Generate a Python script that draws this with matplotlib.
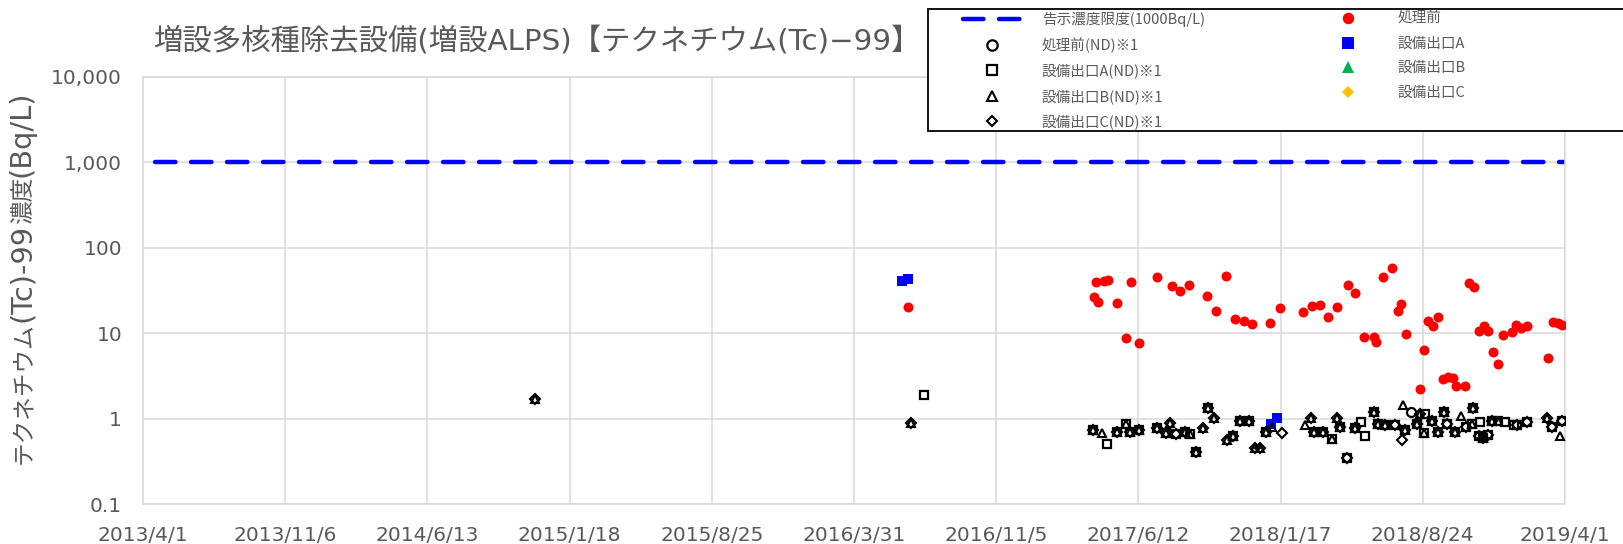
import matplotlib
matplotlib.use("Agg")
import matplotlib.pyplot as plt
import matplotlib.dates as mdates
from matplotlib.patches import Rectangle
import numpy as np
import pandas as pd

# ---------------- data ----------------
title = "増設多核種除去設備(増設ALPS)【テクネチウム(Tc)−99】"
# y-axis title, split into its East-Asian and Latin runs (drawn as one label)
ylabel_parts = ["テクネチウム", "(Tc)-99", "濃度", "(Bq/L)"]
x_tick_labels = ["2013/4/1", "2013/11/6", "2014/6/13", "2015/1/18", "2015/8/25",
                 "2016/3/31", "2016/11/5", "2017/6/12", "2018/1/17", "2018/8/24", "2019/4/1"]
x_range = ["2013-04-01", "2019-04-01"]
y_ticks = [0.1, 1, 10, 100, 1000, 10000]
y_tick_labels = ["0.1", "1", "10", "100", "1,000", "10,000"]

limit_label = "告示濃度限度(1000Bq/L)"
limit_dates = ["2013-04-20", "2019-04-01"]
limit_values = [1000, 1000]

pre_label = "処理前"
pre_dates = ["2016-06-23", "2017-04-05", "2017-04-08", "2017-04-12", "2017-04-20", "2017-04-27",
             "2017-05-10", "2017-05-24", "2017-06-01", "2017-06-13", "2017-07-11", "2017-08-03",
             "2017-08-16", "2017-08-30", "2017-09-27", "2017-10-11", "2017-10-25", "2017-11-08",
             "2017-11-22", "2017-12-05", "2018-01-02", "2018-01-17", "2018-02-21", "2018-03-07",
             "2018-03-19", "2018-04-01", "2018-04-15", "2018-05-02", "2018-05-13", "2018-05-27",
             "2018-06-10", "2018-06-14", "2018-06-25", "2018-07-09", "2018-07-17", "2018-07-22",
             "2018-07-30", "2018-08-21", "2018-08-27", "2018-09-02", "2018-09-10", "2018-09-18",
             "2018-09-25", "2018-10-02", "2018-10-10", "2018-10-15", "2018-10-29", "2018-11-04",
             "2018-11-12", "2018-11-19", "2018-11-27", "2018-12-04", "2018-12-11", "2018-12-18",
             "2018-12-26", "2019-01-09", "2019-01-15", "2019-01-23", "2019-02-01", "2019-03-06",
             "2019-03-13", "2019-03-21", "2019-03-28"]
pre_values = [20.4, 26.3, 39.4, 23.2, 40.8, 42.2,
              22.8, 8.7, 39.8, 7.6, 45.9, 35.7,
              31.5, 36.4, 27.0, 18.3, 46.4, 14.5,
              13.9, 12.8, 13.3, 19.6, 17.7, 20.8,
              21.6, 15.4, 20.1, 37.0, 29.6, 8.95,
              8.95, 7.8, 45.9, 58.0, 18.2, 22.0,
              9.7, 2.2, 6.4, 13.8, 12.1, 15.5,
              2.9, 3.1, 3.0, 2.4, 2.4, 38.4,
              35.0, 10.5, 12.1, 10.7, 6.0, 4.4,
              9.5, 10.3, 12.5, 11.6, 12.1, 5.1,
              13.5, 13.1, 12.5]

pre_nd_label = "処理前(ND)※1"
pre_nd_dates = ["2018-08-06"]
pre_nd_values = [1.2]

a_label = "設備出口A"
a_dates = ["2016-06-13", "2016-06-23", "2018-01-03", "2018-01-13"]
a_values = [40.5, 43.5, 0.86, 1.03]

a_nd_label = "設備出口A(ND)※1"
a_nd_dates = ["2016-07-17", "2017-04-04", "2017-04-26", "2017-05-10", "2017-05-24", "2017-05-31",
              "2017-06-14", "2017-07-11", "2017-07-25", "2017-08-10", "2017-08-23", "2017-08-31",
              "2017-09-09", "2017-09-28", "2017-11-06", "2017-11-16", "2017-11-30", "2017-12-27",
              "2018-03-11", "2018-03-24", "2018-04-07", "2018-04-19", "2018-04-30", "2018-05-13",
              "2018-05-22", "2018-05-28", "2018-06-10", "2018-06-17", "2018-06-28", "2018-07-13",
              "2018-07-29", "2018-08-16", "2018-08-26", "2018-08-29", "2018-09-08", "2018-09-18",
              "2018-09-26", "2018-10-01", "2018-10-14", "2018-10-30", "2018-11-09", "2018-11-11",
              "2018-11-19", "2018-11-21", "2018-11-26", "2018-12-04", "2018-12-09", "2018-12-19",
              "2018-12-30", "2019-01-12", "2019-01-17", "2019-02-01", "2019-03-12", "2019-03-27"]
a_nd_values = [1.9, 0.74, 0.51, 0.70, 0.87, 0.70,
               0.74, 0.78, 0.68, 0.66, 0.70, 0.66,
               0.41, 1.32, 0.62, 0.95, 0.93, 0.70,
               0.70, 0.70, 0.57, 0.80, 0.35, 0.77,
               0.92, 0.62, 1.20, 0.86, 0.85, 0.85,
               0.74, 0.86, 0.68, 1.13, 0.95, 0.70,
               1.20, 0.86, 0.70, 0.80, 0.86, 1.32,
               0.62, 0.92, 0.60, 0.65, 0.95, 0.95,
               0.92, 0.85, 0.85, 0.92, 0.80, 0.95]

b_label = "設備出口B"
b_dates = []
b_values = []

b_nd_label = "設備出口B(ND)※1"
b_nd_dates = ["2014-11-26", "2016-06-28", "2017-04-04", "2017-04-17", "2017-05-10", "2017-05-24",
              "2017-05-31", "2017-06-14", "2017-07-11", "2017-07-25", "2017-08-01", "2017-08-23",
              "2017-08-31", "2017-09-09", "2017-09-20", "2017-09-28", "2017-10-07", "2017-10-27",
              "2017-11-06", "2017-11-16", "2017-11-30", "2017-12-09", "2017-12-17", "2017-12-27",
              "2018-01-04", "2018-02-24", "2018-03-06", "2018-03-11", "2018-03-24", "2018-04-07",
              "2018-04-14", "2018-04-19", "2018-05-13", "2018-06-10", "2018-06-17", "2018-06-28",
              "2018-07-26", "2018-07-29", "2018-08-16", "2018-08-21", "2018-08-26", "2018-09-08",
              "2018-09-18", "2018-09-26", "2018-10-14", "2018-10-22", "2018-11-09", "2018-11-11",
              "2018-11-26", "2018-12-09", "2018-12-19", "2019-03-04", "2019-03-24"]
b_nd_values = [1.7, 0.88, 0.74, 0.68, 0.70, 0.87,
               0.70, 0.74, 0.78, 0.68, 0.89, 0.70,
               0.66, 0.41, 0.77, 1.32, 1.02, 0.56,
               0.62, 0.95, 0.93, 0.45, 0.45, 0.70,
               0.80, 0.85, 1.02, 0.70, 0.70, 0.57,
               1.02, 0.80, 0.77, 1.20, 0.86, 0.85,
               1.44, 0.74, 0.86, 1.13, 0.68, 0.95,
               0.70, 1.20, 0.70, 1.06, 0.86, 1.32,
               0.60, 0.95, 0.95, 1.02, 0.62]

c_label = "設備出口C"
c_dates = []
c_values = []

c_nd_label = "設備出口C(ND)※1"
c_nd_dates = ["2014-11-26", "2016-06-28", "2017-04-04", "2017-05-10", "2017-05-31", "2017-06-14",
              "2017-07-11", "2017-07-25", "2017-08-01", "2017-08-10", "2017-08-23", "2017-09-09",
              "2017-09-20", "2017-09-28", "2017-10-07", "2017-10-27", "2017-11-06", "2017-11-16",
              "2017-11-30", "2017-12-09", "2017-12-17", "2017-12-27", "2018-01-20", "2018-03-06",
              "2018-03-11", "2018-03-24", "2018-04-14", "2018-04-19", "2018-04-30", "2018-05-13",
              "2018-06-10", "2018-06-17", "2018-06-28", "2018-07-13", "2018-07-24", "2018-07-29",
              "2018-08-16", "2018-08-21", "2018-09-08", "2018-09-18", "2018-09-26", "2018-10-01",
              "2018-10-14", "2018-10-30", "2018-11-11", "2018-11-19", "2018-11-26", "2018-12-04",
              "2018-12-09", "2019-01-17", "2019-02-01", "2019-03-04", "2019-03-12", "2019-03-27"]
c_nd_values = [1.7, 0.88, 0.74, 0.70, 0.70, 0.74,
               0.78, 0.68, 0.89, 0.66, 0.70, 0.41,
               0.77, 1.32, 1.02, 0.56, 0.62, 0.95,
               0.93, 0.45, 0.45, 0.70, 0.68, 1.02,
               0.70, 0.70, 1.02, 0.80, 0.35, 0.77,
               1.20, 0.86, 0.85, 0.85, 0.56, 0.74,
               0.86, 1.13, 0.95, 0.70, 1.20, 0.86,
               0.70, 0.80, 1.32, 0.62, 0.60, 0.65,
               0.95, 0.85, 0.92, 1.02, 0.80, 0.95]

# ---------------- style ----------------
W, H = 1623, 544
GRAY = "#595959"
GRID = "#d9d9d9"
CJK = ["Noto Sans CJK JP", "DejaVu Sans"]
MIX = ["DejaVu Sans", "Noto Sans CJK JP"]
plt.rcParams["font.family"] = CJK


def d(lst):
    return mdates.date2num(pd.to_datetime(lst)) if len(lst) else np.array([])


fig = plt.figure(figsize=(W / 100, H / 100), dpi=100)
ax = fig.add_axes([143 / W, (H - 504) / H, (1565 - 143) / W, (504 - 77) / H])

ax.set_yscale("log")
ax.set_ylim(y_ticks[0], y_ticks[-1])
x0, x1 = d(x_range)
ax.set_xlim(x0, x1)

# series in Excel drawing order
lim, = ax.plot(d(limit_dates), limit_values, color="#0000FF", lw=3.2,
               dashes=(4.6, 3.5), dash_capstyle="round", label=limit_label, zorder=2)
pre, = ax.plot(d(pre_dates), pre_values, ls="none", marker="o", ms=7.2, color="#FF0000",
               mew=0, label=pre_label, zorder=3)
pre_nd, = ax.plot(d(pre_nd_dates), pre_nd_values, ls="none", marker="o", ms=6.5, mfc="none",
                  mec="black", mew=1.6, label=pre_nd_label, zorder=3)
a, = ax.plot(d(a_dates), a_values, ls="none", marker="s", ms=7.0, color="#0000FF", mew=0,
             label=a_label, zorder=3)
a_nd, = ax.plot(d(a_nd_dates), a_nd_values, ls="none", marker="s", ms=6.4, mfc="none",
                mec="black", mew=1.6, label=a_nd_label, zorder=3)
b, = ax.plot(d(b_dates), b_values, ls="none", marker="^", ms=7, color="#00B050", mew=0,
             label=b_label, zorder=3)
b_nd, = ax.plot(d(b_nd_dates), b_nd_values, ls="none", marker="^", ms=6.4, mfc="none",
                mec="black", mew=1.5, label=b_nd_label, zorder=3)
c, = ax.plot(d(c_dates), c_values, ls="none", marker="D", ms=5.5, color="#FFC000", mew=0,
             label=c_label, zorder=3)
c_nd, = ax.plot(d(c_nd_dates), c_nd_values, ls="none", marker="D", ms=4.6, mfc="none",
                mec="black", mew=1.5, label=c_nd_label, zorder=3)

# axes / grid
ax.set_xticks(np.linspace(x0, x1, len(x_tick_labels)))
ax.set_xticklabels(x_tick_labels)
ax.set_yticks(y_ticks)
ax.set_yticklabels(y_tick_labels)
ax.yaxis.set_minor_locator(matplotlib.ticker.NullLocator())
ax.tick_params(axis="both", length=0, labelsize=14.5, labelcolor=GRAY)
ax.tick_params(axis="x", pad=16)
ax.tick_params(axis="y", pad=15)
for lab in ax.get_xticklabels() + ax.get_yticklabels():
    lab.set_family("DejaVu Sans")
ax.grid(True, color=GRID, lw=1.1, zorder=0)
ax.set_axisbelow(True)
for s in ax.spines.values():
    s.set_color(GRID)
    s.set_linewidth(1.1)

# title
fig.text(153 / W, 1 - 41 / H, title, fontsize=21.2, color=GRAY, family=MIX,
         ha="left", va="center", zorder=3)

# y-axis title: East-Asian runs in Noto Sans CJK, Latin runs in a wider sans, read upward
renderer = fig.canvas.get_renderer()
texts = []
for part in ylabel_parts:
    latin = part.isascii()
    texts.append(fig.text(0, 0, part, fontsize=20.8 if latin else 17, color=GRAY,
                          family="DejaVu Sans" if latin else CJK, rotation=90,
                          rotation_mode="anchor", ha="left", va="baseline"))
lengths = [t.get_window_extent(renderer).height for t in texts]
y_start = (H - 277) - sum(lengths) / 2.0   # centred at 277 px from top
for t, L in zip(texts, lengths):
    t.set_position((30 / W, y_start / H))
    y_start += L

# legend box (extends past the right edge)
fig.add_artist(Rectangle((928 / W, 1 - 131 / H), (1700 - 928) / W, (131 - 9) / H,
                         transform=fig.transFigure, facecolor="white", edgecolor="black",
                         lw=1.3, zorder=4))
leg_kw = dict(frameon=False, borderpad=0, handlelength=4.0, handletextpad=1.4,
              labelspacing=0.72, labelcolor=GRAY, loc="upper left",
              borderaxespad=0, prop={"family": CJK, "size": 10.5}, markerscale=1.15)
leg1 = fig.legend([lim, pre_nd, a_nd, b_nd, c_nd],
                  [limit_label, pre_nd_label, a_nd_label, b_nd_label, c_nd_label],
                  bbox_to_anchor=(963 / W, 1 - 12 / H), **leg_kw)
leg2 = fig.legend([pre, a, b, c], [pre_label, a_label, b_label, c_label],
                  bbox_to_anchor=(1319 / W, 1 - 12 / H), **leg_kw)
leg1.set_zorder(5)
leg2.set_zorder(5)

fig.savefig("out.png", dpi=100)
